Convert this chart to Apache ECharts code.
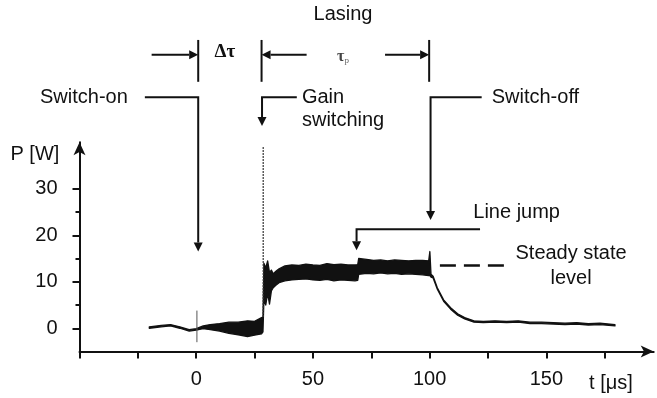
<!DOCTYPE html>
<html>
<head>
<meta charset="utf-8">
<script src="https://cdn.jsdelivr.net/npm/echarts@6/dist/echarts.min.js"></script>
<style>
  html, body { margin: 0; padding: 0; background: #fff; }
  #main { width: 657px; height: 398px; }
</style>
</head>
<body>
<div id="main"></div>
<script>
// trace envelope: time [us], lower and upper edge [W]
const tVals = [-20.1, -15, -11, -7, -3, 0, 3, 6, 10, 14, 18, 22, 25, 28, 28.6,
  29.0, 29.8, 30.6, 31.4, 32.2, 33.0, 34.0, 35.5, 38, 41, 44, 47, 50, 53, 56, 59, 62, 65, 68, 69.2,
  69.6, 73, 76, 79, 82, 85, 88, 91, 94, 97, 99.6, 100.1, 100.6,
  101.5, 103.3, 106, 109, 112, 115, 119, 123, 128, 133, 138, 143, 148, 153, 158, 163, 168, 173, 179.4];
const lowVals = [0.0, 0.3, 0.5, 0.0, -0.6, -0.4, -0.1, -0.3, -0.6, -1.1, -1.4, -1.8, -1.5, -1.2, -0.8,
  6.0, 5.0, 7.5, 5.2, 8.0, 8.7, 9.2, 9.8, 10.2, 10.4, 10.5, 10.6, 10.4, 10.3, 10.5, 10.2, 10.4, 10.3, 10.2, 10.3,
  11.6, 11.8, 11.7, 11.9, 11.7, 11.8, 11.6, 11.7, 11.6, 11.5, 11.3, 11.3, 11.0,
  10.8, 8.4, 5.8, 4.1, 2.8, 2.0, 1.3, 1.2, 1.3, 1.2, 1.3, 1.0, 1.0, 0.9, 0.8, 0.9, 0.7, 0.8, 0.5];
const highVals = [0.3, 0.6, 0.8, 0.3, -0.3, -0.1, 0.5, 0.8, 1.0, 1.3, 1.3, 1.6, 1.5, 2.3, 2.4,
  14.0, 13.0, 14.5, 12.0, 12.5, 11.7, 12.2, 12.8, 13.4, 13.6, 13.5, 13.8, 13.6, 13.5, 13.9, 13.7, 13.8, 13.6, 13.6, 13.7,
  15.0, 14.8, 14.6, 14.7, 14.5, 14.7, 14.6, 14.5, 14.6, 14.6, 14.5, 16.5, 11.6,
  11.2, 8.7, 6.1, 4.4, 3.1, 2.3, 1.6, 1.5, 1.6, 1.5, 1.6, 1.3, 1.3, 1.2, 1.1, 1.2, 1.0, 1.1, 0.8];
const spikeOn = [[0.3, -3.0], [0.3, 3.8]];
const spikeGain = [[28.7, 2.4], [28.7, 39.0]];

const xTicks = [-50, -25, 0, 25, 50, 75, 100, 125, 150, 175];
const xLabels = [0, 50, 100, 150];
const yTicks = [0, 10, 20, 30];
const yMinorTicks = [5, 15, 25];

// annotations, in data units (t, P)
const arrowLines = [
  [[-19.1, 58.8], [0.86, 58.8]],
  [[47.3, 58.8], [28.0, 58.8]],
  [[80.9, 58.8], [99.8, 58.8]],
  [[-22, 49.7], [0.86, 49.7], [0.86, 16.5]],
  [[43.1, 49.7], [28.2, 49.7], [28.2, 43.5]],
  [[122.3, 49.7], [100.4, 49.7], [100.4, 23.3]],
  [[121.6, 21.3], [68.7, 21.3], [68.7, 16.8]]
];
const plainLines = [
  [[0.86, 62], [0.86, 53]],
  [[28.0, 62], [28.0, 53]],
  [[99.8, 62], [99.8, 53]]
];
const steadyLevel = [[104.4, 13.5], [133.0, 13.5]];
const labels = [
  ['Lasing', 62.9, 67.4, 'center'],
  ['Switch-on', -29.3, 49.7, 'right'],
  ['Gain', 45.3, 49.7, 'left'],
  ['switching', 45.3, 44.6, 'left'],
  ['Switch-off', 126.6, 49.7, 'left'],
  ['Line jump', 118.7, 24.8, 'left'],
  ['Steady state', 160.6, 16.1, 'center'],
  ['level', 160.6, 10.7, 'center'],
  ['P [W]', -69.1, 37.3, 'center'],
  ['t [\u03bcs]', 177.7, -11.8, 'center']
];
const deltaTauAt = [12.3, 59.3];
const tauPAt = [62.9, 58.4];

const FONT = "'Liberation Sans', Arial, sans-serif";
const INK = '#111';

const chart = echarts.init(document.getElementById('main'));

const axisLineStyle = {
  onZero: false,
  lineStyle: { color: INK, width: 2 },
  symbol: ['none', 'arrow'],
  symbolSize: [9, 13]
};

// the noisy trace as one filled band between its lower and upper edge
function renderBand(params, api) {
  if (params.dataIndex !== 0) return null;
  const upper = tVals.map((t, i) => api.coord([t, highVals[i]]));
  const lower = tVals.map((t, i) => api.coord([t, lowVals[i]])).reverse();
  return {
    type: 'polygon',
    shape: { points: upper.concat(lower) },
    style: { fill: INK, stroke: INK, lineWidth: 1.3, lineJoin: 'round' }
  };
}

chart.setOption({
  animation: false,
  backgroundColor: '#fff',
  grid: { left: 79.5, right: 3.3, top: 142.25, bottom: 46.5 },
  xAxis: {
    type: 'value',
    min: -50,
    max: 196,
    interval: 25,
    splitLine: { show: false },
    axisLine: axisLineStyle,
    axisTick: { customValues: xTicks, length: 7, lineStyle: { color: INK, width: 2 } },
    axisLabel: { customValues: xLabels, margin: 18, color: INK, fontSize: 20, fontFamily: FONT }
  },
  yAxis: [
    {
      type: 'value',
      min: -5,
      max: 40,
      interval: 5,
      splitLine: { show: false },
      axisLine: Object.assign({ show: true }, axisLineStyle),
      axisTick: { show: true, customValues: yTicks, length: 7, lineStyle: { color: INK, width: 2 } },
      axisLabel: { customValues: yTicks, margin: 22, color: INK, fontSize: 20, fontFamily: FONT }
    },
    {
      type: 'value',
      position: 'left',
      min: -5,
      max: 40,
      interval: 5,
      splitLine: { show: false },
      axisLine: { show: false, onZero: false },
      axisTick: { show: true, customValues: yMinorTicks, length: 4, lineStyle: { color: INK, width: 2 } },
      axisLabel: { show: false }
    }
  ],
  series: [
    {
      name: 'trace',
      type: 'custom',
      renderItem: renderBand,
      encode: { x: 0, y: [1, 2] },
      data: tVals.map((t, i) => [t, lowVals[i], highVals[i]])
    },
    {
      name: 'spikeOn',
      type: 'line',
      symbol: 'none',
      data: spikeOn,
      lineStyle: { color: '#555', width: 1 }
    },
    {
      name: 'spikeGain',
      type: 'line',
      symbol: 'none',
      data: spikeGain,
      lineStyle: { color: '#333', width: 1.2, type: [2, 1] }
    }
  ]
});

// annotations go through the chart's own axes
const px = (p) => chart.convertToPixel({ xAxisIndex: 0, yAxisIndex: 0 }, p);

const graphics = [];
const HEAD_LEN = 9, HEAD_W = 9;

arrowLines.forEach((line) => {
  const pts = line.map(px);
  const tip = pts[pts.length - 1];
  const prev = pts[pts.length - 2];
  const dx = tip[0] - prev[0], dy = tip[1] - prev[1];
  const len = Math.sqrt(dx * dx + dy * dy);
  const ux = dx / len, uy = dy / len;
  const base = [tip[0] - ux * HEAD_LEN, tip[1] - uy * HEAD_LEN];
  const body = pts.slice(0, -1).concat([base]);
  graphics.push({
    type: 'polyline',
    z: 10,
    shape: { points: body },
    style: { stroke: INK, lineWidth: 2, fill: null }
  });
  graphics.push({
    type: 'polygon',
    z: 10,
    shape: {
      points: [
        tip,
        [base[0] - uy * HEAD_W / 2, base[1] + ux * HEAD_W / 2],
        [base[0] + uy * HEAD_W / 2, base[1] - ux * HEAD_W / 2]
      ]
    },
    style: { fill: INK }
  });
});

plainLines.forEach((line) => {
  graphics.push({
    type: 'polyline',
    z: 10,
    shape: { points: line.map(px) },
    style: { stroke: INK, lineWidth: 2, fill: null }
  });
});

graphics.push({
  type: 'polyline',
  z: 10,
  shape: { points: steadyLevel.map(px) },
  style: { stroke: INK, lineWidth: 2.5, lineDash: [16, 8], fill: null }
});

labels.forEach(([text, t, p, align]) => {
  const at = px([t, p]);
  graphics.push({
    type: 'text',
    z: 10,
    x: at[0],
    y: at[1],
    style: {
      text: text,
      fill: INK,
      font: '20px ' + FONT,
      align: align,
      verticalAlign: 'middle'
    }
  });
});

const dt = px(deltaTauAt);
graphics.push({
  type: 'text',
  z: 10,
  x: dt[0],
  y: dt[1],
  style: {
    text: '\u0394\u03c4',
    fill: INK,
    font: 'bold 19px "Liberation Serif", serif',
    align: 'center',
    verticalAlign: 'middle'
  }
});

const tp = px(tauPAt);
graphics.push({
  type: 'text',
  z: 10,
  x: tp[0],
  y: tp[1],
  style: {
    text: '{a|\u03c4}{b|p}',
    align: 'center',
    verticalAlign: 'middle',
    rich: {
      a: { fill: '#444', font: 'bold 16px "Liberation Serif", serif' },
      b: { fill: '#666', font: '9px "Liberation Serif", serif', padding: [7, 0, 0, 0] }
    }
  }
});

chart.setOption({ graphic: graphics });
</script>
</body>
</html>
